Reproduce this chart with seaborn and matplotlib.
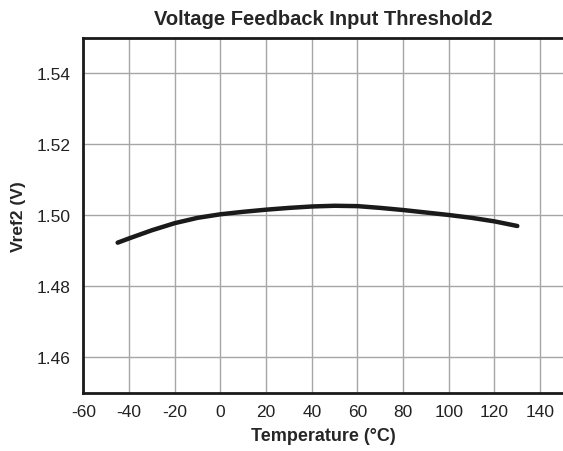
import matplotlib
matplotlib.use('Agg')
import pandas as pd
import seaborn as sns
import matplotlib.pyplot as plt

# values
temp = [-45, -40, -30, -20, -10, 0, 10, 20, 30, 40, 50, 60, 70, 80, 90, 100, 110, 120, 130]
vref = [1.4923, 1.4935, 1.4958, 1.4978, 1.4993, 1.5003, 1.5010, 1.5016, 1.5021, 1.5025, 1.5027, 1.5026, 1.5021, 1.5015, 1.5008, 1.5001, 1.4993, 1.4983, 1.4970]
x_ticks = [-60, -40, -20, 0, 20, 40, 60, 80, 100, 120, 140]
y_ticks = [1.46, 1.48, 1.50, 1.52, 1.54]

df = pd.DataFrame({'Temperature': temp, 'Vref2': vref})

sns.set_style('white')
plt.rcParams['font.family'] = ['Liberation Sans', 'DejaVu Sans']

fig = plt.figure(figsize=(5.63, 4.52), dpi=100)
ax = fig.add_axes([83.4 / 563, 1 - 393.7 / 452, (563 - 83.4) / 563, (393.7 - 39) / 452])

sns.lineplot(x='Temperature', y='Vref2', data=df, color='#1a1a1a', linewidth=3.2,
             solid_capstyle='round', ax=ax)

ax.set_xlim(-60, 150)
ax.set_ylim(1.45, 1.55)
ax.set_xticks(x_ticks)
ax.set_yticks(y_ticks)
ax.set_xticklabels([str(t) for t in x_ticks])
ax.set_yticklabels(['%.2f' % t for t in y_ticks])
ax.tick_params(axis='both', labelsize=12.5, length=0, colors='#222222')
ax.tick_params(axis='x', pad=8)
ax.tick_params(axis='y', pad=9)
ax.grid(True, color='#a6a6a6', linewidth=1)

for side in ['left', 'top', 'bottom']:
    ax.spines[side].set_color('#1a1a1a')
    ax.spines[side].set_linewidth(2)
ax.spines['right'].set_visible(False)

ax.set_xlabel('Temperature (°C)', fontsize=13, fontweight='bold', labelpad=6)
ax.set_ylabel('Vref2 (V)', fontsize=12.5, fontweight='bold', labelpad=8)
ax.set_title('Voltage Feedback Input Threshold2', fontsize=14.5, fontweight='bold', pad=10)

fig.savefig('out.png', dpi=100)
